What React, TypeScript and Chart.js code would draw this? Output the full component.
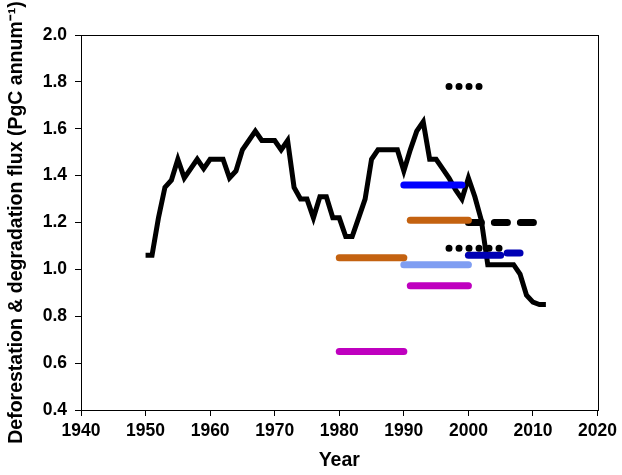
import { useEffect, useRef } from "react";
import { Chart, registerables } from "chart.js";

Chart.register(...registerables);

// Annual deforestation & degradation flux (black line)
const years = [
  1950, 1951, 1952, 1953, 1954, 1955, 1956, 1957, 1958, 1959,
  1960, 1961, 1962, 1963, 1964, 1965, 1966, 1967, 1968, 1969,
  1970, 1971, 1972, 1973, 1974, 1975, 1976, 1977, 1978, 1979,
  1980, 1981, 1982, 1983, 1984, 1985, 1986, 1987, 1988, 1989,
  1990, 1991, 1992, 1993, 1994, 1995, 1996, 1997, 1998, 1999,
  2000, 2001, 2002, 2003, 2004, 2005, 2006, 2007, 2008, 2009,
  2010, 2011, 2012,
];
const flux = [
  1.06, 1.06, 1.22, 1.35, 1.38, 1.47, 1.39, 1.43, 1.47, 1.43,
  1.47, 1.47, 1.47, 1.39, 1.42, 1.51, 1.55, 1.59, 1.55, 1.55,
  1.55, 1.51, 1.55, 1.35, 1.3, 1.3, 1.22, 1.31, 1.31, 1.22,
  1.22, 1.14, 1.14, 1.22, 1.3, 1.47, 1.51, 1.51, 1.51, 1.51,
  1.42, 1.51, 1.59, 1.63, 1.47, 1.47, 1.43, 1.39, 1.34, 1.3,
  1.39, 1.31, 1.21, 1.02, 1.02, 1.02, 1.02, 1.02, 0.98, 0.89,
  0.86, 0.85, 0.85,
];

// Period estimates (horizontal bars)
const segStart = [1980, 1980, 1990, 1991, 1990, 1991, 2000, 1997, 1997, 2000, 2006];
const segEnd = [1990, 1990, 1999, 2000, 2000, 2000, 2012, 2002, 2005, 2005, 2008];
const segValue = [1.05, 0.65, 1.36, 1.21, 1.02, 0.93, 1.2, 1.78, 1.09, 1.06, 1.07];

// Styles for the bars
const segColor = [
  "#c46210", "#bf00bf", "#0000ff", "#c46210", "#7f9ef2", "#bf00bf",
  "#000000", "#000000", "#000000", "#0000b4", "#0000b4",
];
const segDash: number[][] = [[], [], [], [], [], [], [13, 13], [0, 10], [0, 10], [], []];
const segWidth = [7, 7, 7, 7, 7, 7, 7, 7, 7, 7, 7];
const segOrder = [2, 2, 2, 2, 2, 2, 2, 1, 1, 3, 3];

const FONT = "'Liberation Sans', Arial, sans-serif";

export default function App() {
  const ref = useRef<HTMLCanvasElement | null>(null);

  useEffect(() => {
    if (!ref.current) return;

    const frame = {
      id: "frame",
      afterDraw(chart: any) {
        const { ctx, chartArea } = chart;
        ctx.save();
        ctx.strokeStyle = "#000";
        ctx.lineWidth = 1;
        ctx.strokeRect(
          Math.round(chartArea.left) + 0.5,
          Math.round(chartArea.top) + 0.5,
          Math.round(chartArea.right - chartArea.left),
          Math.round(chartArea.bottom - chartArea.top)
        );
        ctx.restore();
      },
    };

    const datasets: any[] = [
      {
        label: "flux",
        data: years.map((y, i) => ({ x: y, y: flux[i] })),
        borderColor: "#000",
        borderWidth: 5,
        pointRadius: 0,
        tension: 0,
        fill: false,
        order: 10,
        borderJoinStyle: "miter",
      },
    ];
    segStart.forEach((s, i) => {
      datasets.push({
        label: "seg" + i,
        data: [
          { x: s, y: segValue[i] },
          { x: segEnd[i], y: segValue[i] },
        ],
        borderColor: segColor[i],
        borderWidth: segWidth[i],
        borderDash: segDash[i],
        borderCapStyle: "round",
        pointRadius: 0,
        tension: 0,
        fill: false,
        order: segOrder[i],
      });
    });

    const chart = new Chart(ref.current, {
      type: "line",
      data: { datasets },
      plugins: [frame],
      options: {
        animation: false,
        responsive: true,
        maintainAspectRatio: false,
        layout: { padding: { top: 35, right: 20, left: 0, bottom: 0 } },
        plugins: {
          legend: { display: false },
          tooltip: { enabled: false },
        },
        scales: {
          x: {
            type: "linear",
            min: 1940,
            max: 2020,
            afterFit: (scale: any) => {
              scale.height = 65;
            },
            ticks: {
              stepSize: 10,
              padding: 5,
              color: "#000",
              font: { family: FONT, size: 17.5, weight: "bold" },
              maxRotation: 0,
              callback: (v: any) => String(v),
            },
            grid: {
              drawOnChartArea: false,
              drawTicks: true,
              tickLength: 6,
              color: "#000",
            },
            border: { display: true, color: "#000", width: 1 },
            title: {
              display: true,
              text: "Year",
              color: "#000",
              font: { family: FONT, size: 19.5, weight: "bold" },
              padding: { top: 0, bottom: 3 },
            },
          },
          y: {
            type: "linear",
            min: 0.4,
            max: 2.0,
            afterFit: (scale: any) => {
              scale.width = 81;
            },
            ticks: {
              stepSize: 0.2,
              padding: 8,
              color: "#000",
              font: { family: FONT, size: 17.5, weight: "bold" },
              callback: (v: any) => Number(v).toFixed(1),
            },
            grid: {
              drawOnChartArea: false,
              drawTicks: true,
              tickLength: 6,
              color: "#000",
            },
            border: { display: true, color: "#000", width: 1 },
            title: {
              display: true,
              text: "Deforestation & degradation flux (PgC annum\u207B\u00B9)",
              color: "#000",
              font: { family: FONT, size: 19.5, weight: "bold" },
              padding: { top: 5, bottom: 0 },
            },
          },
        },
      },
    });

    return () => chart.destroy();
  }, []);

  return (
    <div
      style={{
        position: "absolute",
        left: 0,
        top: 0,
        width: 622,
        height: 475,
        background: "#fff",
      }}
    >
      <canvas ref={ref} />
    </div>
  );
}
